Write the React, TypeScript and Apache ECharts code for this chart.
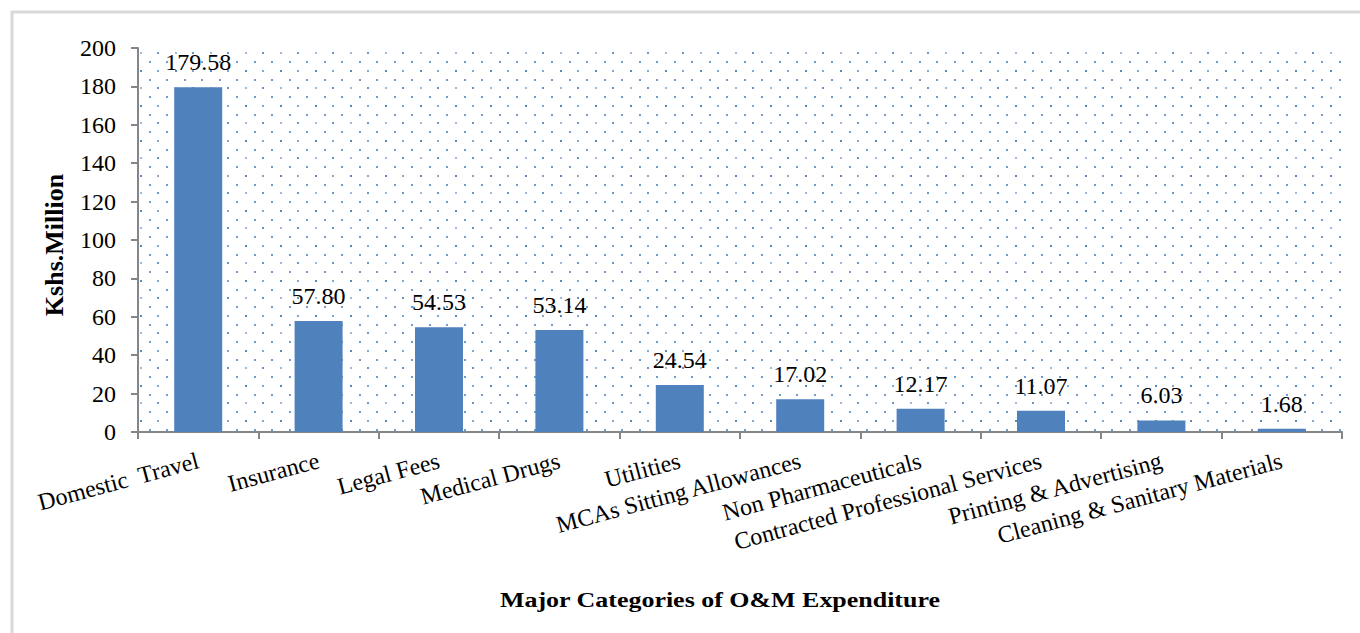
import React, { useEffect, useRef } from "react";
import * as echarts from "echarts";

const categories = [
  "Domestic  Travel",
  "Insurance",
  "Legal Fees",
  "Medical Drugs",
  "Utilities",
  "MCAs Sitting Allowances",
  "Non Pharmaceuticals",
  "Contracted Professional Services",
  "Printing & Advertising",
  "Cleaning & Sanitary Materials",
];
const values = [179.58, 57.8, 54.53, 53.14, 24.54, 17.02, 12.17, 11.07, 6.03, 1.68];
const yTitle = "Kshs.Million";
const xTitle = "Major Categories of O&M Expenditure";

const FONT = "'Liberation Serif', 'Times New Roman', serif";

function makePattern(): HTMLCanvasElement {
  const c = document.createElement("canvas");
  c.width = 35;
  c.height = 35;
  const ctx = c.getContext("2d")!;
  ctx.clearRect(0, 0, 35, 35);
  const dots: [number, number, string][] = [
    [0, 0, "rgba(79,129,189,0.95)"],
    [17, 0, "rgba(79,129,189,0.7)"],
    [9, 9, "rgba(79,129,189,0.8)"],
    [26, 9, "rgba(79,129,189,0.8)"],
    [0, 17, "rgba(79,129,189,0.55)"],
    [17, 17, "rgba(79,129,189,0.85)"],
    [9, 26, "rgba(79,129,189,0.8)"],
    [26, 26, "rgba(79,129,189,0.8)"],
  ];
  dots.forEach(([x, y, col]) => {
    ctx.fillStyle = col;
    ctx.fillRect(x, y, 2, 2);
  });
  return c;
}

export default function App() {
  const ref = useRef<HTMLDivElement>(null);
  useEffect(() => {
    document.body.style.margin = "0";
    const chart = echarts.init(ref.current!, undefined, { renderer: "svg" });
    const pattern = makePattern();
    chart.setOption({
      animation: false,
      backgroundColor: "#ffffff",
      grid: {
        show: true,
        left: 138,
        right: 18,
        top: 48,
        bottom: 201,
        borderWidth: 0,
        backgroundColor: { image: pattern, repeat: "repeat" },
      },
      xAxis: {
        type: "category",
        data: categories,
        boundaryGap: true,
        axisLine: { lineStyle: { color: "#868686", width: 2 } },
        axisTick: { show: true, alignWithLabel: false, length: 7, lineStyle: { color: "#868686", width: 2 } },
        axisLabel: {
          interval: 0,
          rotate: 15,
          margin: 28,
          fontFamily: FONT,
          fontSize: 24,
          color: "#000",
        },
        splitLine: { show: false },
      },
      yAxis: {
        type: "value",
        min: 0,
        max: 200,
        interval: 20,
        axisLine: { show: true, lineStyle: { color: "#868686", width: 2 } },
        axisTick: { show: true, length: 7, lineStyle: { color: "#868686", width: 2 } },
        axisLabel: { fontFamily: FONT, fontSize: 24, color: "#000", margin: 22 },
        splitLine: { show: false },
      },
      series: [
        {
          type: "bar",
          data: values,
          barWidth: 48,
          itemStyle: { color: "#4f81bd" },
          label: {
            show: true,
            position: "top",
            distance: 13,
            fontFamily: FONT,
            fontSize: 24,
            color: "#000",
            formatter: (p: any) => Number(p.value).toFixed(2),
          },
        },
      ],
      graphic: [
        {
          type: "rect",
          shape: { x: 12, y: 12, width: 1400, height: 700 },
          style: { fill: "none", stroke: "#d9d9d9", lineWidth: 3 },
          silent: true,
          z: -10,
        },
        {
          type: "text",
          x: 54,
          y: 245,
          rotation: Math.PI / 2,
          style: {
            text: yTitle,
            fontFamily: FONT,
            fontSize: 26,
            fontWeight: "bold",
            fill: "#000",
            align: "center",
            verticalAlign: "middle",
          },
        },
        {
          type: "text",
          x: 720,
          y: 600,
          scaleX: 1.18,
          style: {
            text: xTitle,
            fontFamily: FONT,
            fontSize: 22,
            fontWeight: "bold",
            fill: "#000",
            align: "center",
            verticalAlign: "middle",
          },
        },
      ],
    });
    return () => chart.dispose();
  }, []);
  return (
    <div
      ref={ref}
      style={{ position: "absolute", left: 0, top: 0, width: 1360, height: 633 }}
    />
  );
}
